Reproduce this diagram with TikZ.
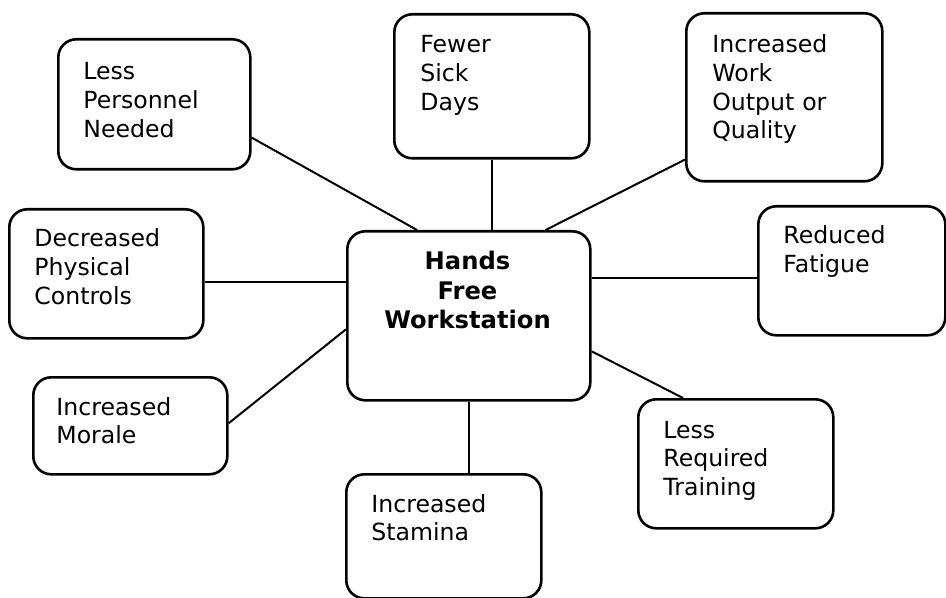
\documentclass[tikz,border=0pt]{standalone}
\usepackage{fontspec}
\setmainfont{DejaVu Sans}
\usetikzlibrary{calc}
\tikzset{
  bx/.style={draw, line width=1.3pt, rounded corners=9pt, inner sep=0pt, anchor=north west},
  lbl/.style={anchor=base west, inner sep=0pt, text width=90pt, align=left,
              font=\fontsize{11.8}{14.3}\selectfont},
  ctrlbl/.style={anchor=base, inner sep=0pt, text width=120pt, align=center,
              font=\fontsize{12.1}{14.6}\selectfont\bfseries},
  link/.style={line width=1pt},
}
\begin{document}
\begin{tikzpicture}[x=0.5pt,y=-0.5pt]
\useasboundingbox (0,0) rectangle (946,598);
% boxes
\node[bx, minimum width=96pt,   minimum height=65pt]   (lpn) at (57,38)  {};
\node[bx, minimum width=97.5pt, minimum height=72pt]   (fsd) at (393,13) {};
\node[bx, minimum width=98pt,   minimum height=84pt]   (iwo) at (685,12) {};
\node[bx, minimum width=97pt,   minimum height=64.5pt] (dpc) at (8,208)  {};
\node[bx, minimum width=121.5pt,minimum height=84.5pt] (ctr) at (346,230) {};
\node[bx, minimum width=93.5pt, minimum height=64.5pt] (rf)  at (757,205) {};
\node[bx, minimum width=97pt,   minimum height=48.5pt] (im)  at (32,376) {};
\node[bx, minimum width=97.5pt, minimum height=64.5pt] (lrt) at (637,398) {};
\node[bx, minimum width=97.5pt, minimum height=62pt]   (is)  at (345,473) {};
% labels
\node[lbl] (lpnT) at (83,80)   {Less\\Personnel\\Needed};
\node[lbl] (fsdT) at (420,53)  {Fewer\\Sick\\Days};
\node[lbl] (iwoT) at (712,53)  {Increased\\Work\\Output or\\Quality};
\node[lbl] (dpcT) at (34,247)  {Decreased\\Physical\\Controls};
\node[ctrlbl] (ctrT) at (467.5,270) {Hands\\Free\\Workstation};
\node[lbl] (rfT)  at (783,244) {Reduced\\Fatigue};
\node[lbl] (imT)  at (56,415)  {Increased\\Morale};
\node[lbl] (lrtT) at (663,438) {Less\\Required\\Training};
\node[lbl] (isT)  at (371,512) {Increased\\Stamina};
% connectors
\draw[link] ($(lpn.south east)+(0,-33)$) -- ($(ctr.north west)+(71,0)$);
\draw[link] ($(ctr.north)+(23.5,0)$) coordinate (c1) -- (c1 |- fsd.south);
\draw[link] ($(iwo.south west)+(0,-23)$) -- ($(ctr.north east)+(-46,0)$);
\draw[link] ($(dpc.south east)+(0,-58)$) coordinate (c2) -- (c2 -| ctr.west);
\draw[link] ($(rf.west)+(0,7.5)$) coordinate (c3) -- (c3 -| ctr.east);
\draw[link] ($(im.east)+(0,-2.5)$) -- ($(ctr.west)+(0,13.5)$);
\draw[link] (ctr.south) -- (ctr.south |- is.north);
\draw[link] ($(ctr.east)+(0,35.5)$) -- ($(lrt.north west)+(46,0)$);
\end{tikzpicture}
\end{document}
